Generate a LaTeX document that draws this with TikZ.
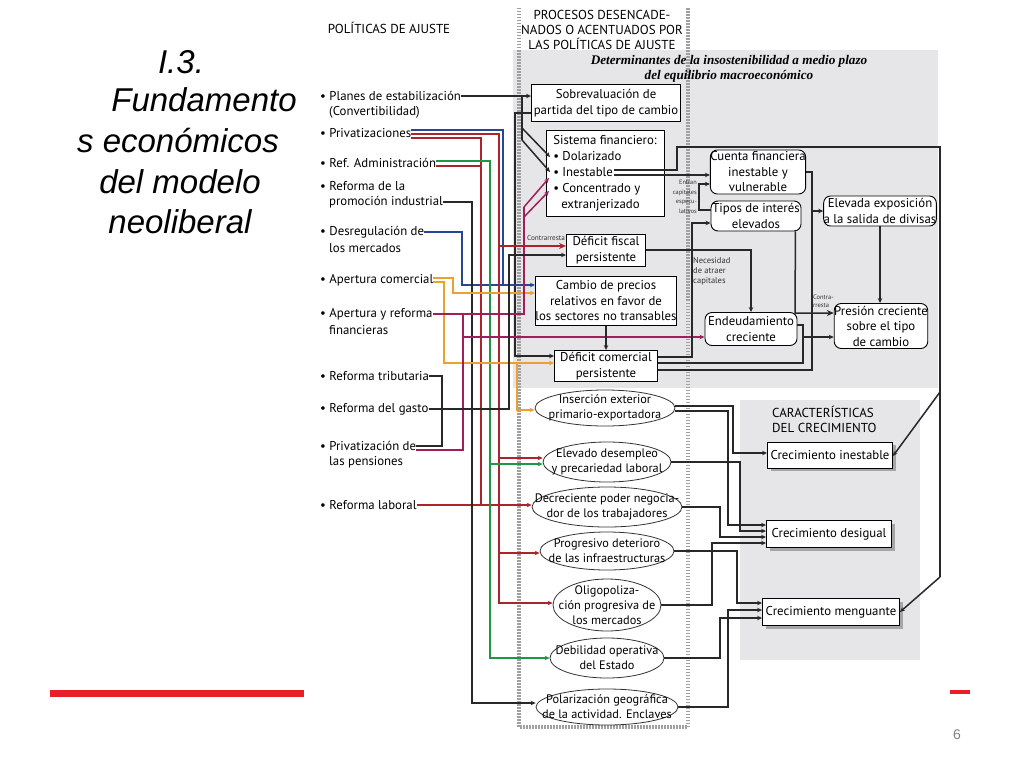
\documentclass[tikz,border=0pt]{standalone}
\usepackage{fontspec}
\setmainfont{PT Sans}
\newfontfamily\arialf{Liberation Sans}
\newfontfamily\timesf{Liberation Serif}
\usetikzlibrary{shapes.geometric,arrows.meta,shadows}
\definecolor{wk}{RGB}{40,40,40}
\definecolor{wr}{RGB}{170,35,45}
\definecolor{wb}{RGB}{40,70,150}
\definecolor{wg}{RGB}{30,150,70}
\definecolor{wo}{RGB}{235,160,50}
\definecolor{wm}{RGB}{160,30,90}
\definecolor{bgg}{RGB}{230,230,232}
\definecolor{redbar}{RGB}{232,30,40}
\definecolor{dotg}{RGB}{160,160,160}
\begin{document}
\begin{tikzpicture}[x=1pt,y=-1pt,
  wire/.style={line width=1.5pt,draw=wk},
  arr/.style={-{Stealth[length=5pt,width=4.5pt]}},
  carr/.style={-{Stealth[length=7pt,width=6pt,open]}},
  bx/.style={draw=black,line width=0.9pt,fill=white,align=center,inner xsep=0pt,inner ysep=1pt,font=\fontsize{12.8}{15.5}\selectfont},
  rbx/.style={bx,rounded corners=7pt},
  el/.style={ellipse,draw=black!80,line width=0.8pt,fill=white,align=center,inner xsep=-25pt,inner ysep=-5pt,font=\fontsize{12.3}{15}\selectfont},
  cbx/.style={bx,drop shadow={shadow xshift=3pt,shadow yshift=-3pt,fill=gray!70,opacity=1}},
  lbl/.style={anchor=west,inner sep=0pt,font=\fontsize{12.8}{15.5}\selectfont},
  ttl/.style={font=\arialf\itshape\fontsize{33}{40}\selectfont,inner sep=0pt},
  hdr/.style={font=\fontsize{13}{15}\selectfont,align=center,inner sep=0pt},
  sml/.style={font=\fontsize{7.2}{9.5}\selectfont,inner sep=0pt,text=black!80},
  dotl/.style={draw=dotg,line width=3.5pt,dash pattern=on 1.5pt off 1.5pt}
]
\useasboundingbox (0,0) rectangle (1024,768);
\fill[white] (0,0) rectangle (1024,768);
% backgrounds
\fill[bgg] (513,50) rectangle (938,388);
\fill[bgg] (740,400) rectangle (920,660);
\draw[dotl] (519,8) -- (519,727) -- (688,727) -- (688,8);
% title
\node[ttl] (t1) at (181,62) {I.3.};
\node[ttl] (t2) at (204,100) {Fundamento};
\node[ttl] (t3) at (178,141) {s económicos};
\node[ttl] (t4) at (180,182) {del modelo};
\node[ttl] (t5) at (180,222) {neoliberal};
\fill[redbar] (50,690) rectangle (304,697);
\fill[redbar] (950,690) rectangle (970,694);
\node[font=\arialf\fontsize{14}{16}\selectfont,text=gray] (pg) at (957,735) {6};
% headers
\node[hdr] (hpol) at (389,28) {POLÍTICAS DE AJUSTE};
\node[hdr] (hpro) at (602,30) {PROCESOS DESENCADE-\\NADOS O ACENTUADOS POR\\LAS POLÍTICAS DE AJUSTE};
\node[font=\timesf\bfseries\itshape\fontsize{13.2}{14.5}\selectfont,align=center,inner sep=0pt] (hdet) at (729,69) {Determinantes de la insostenibilidad a medio plazo\\del equilibrio macroeconómico};
\node[hdr,align=left,anchor=west] (hcar) at (772,419) {CARACTERÍSTICAS\\DEL CRECIMIENTO};
% left labels
\node[lbl] (p1) at (320,96) {• Planes de estabilización};
\node[lbl] (p1b) at (329,112) {(Convertibilidad)};
\node[lbl] (pr) at (320,133) {• Privatizaciones};
\node[lbl] (ra) at (320,163) {• Ref. Administración};
\node[lbl] (pi) at (320,186) {• Reforma de la};
\node[lbl] (pib) at (329,202) {promoción industrial};
\node[lbl] (dr) at (320,232) {• Desregulación de};
\node[lbl] (drb) at (329,248) {los mercados};
\node[lbl] (ac) at (320,280) {• Apertura comercial};
\node[lbl] (af) at (320,314) {• Apertura y reforma};
\node[lbl] (afb) at (329,330) {financieras};
\node[lbl] (rt) at (320,376) {• Reforma tributaria};
\node[lbl] (rg) at (320,409) {• Reforma del gasto};
\node[lbl] (pp) at (320,446) {• Privatización de};
\node[lbl] (ppb) at (329,462) {las pensiones};
\node[lbl] (rl) at (320,505) {• Reforma laboral};
% boxes
\node[bx,minimum width=149pt,minimum height=37pt] (sob) at (606,103) {Sobrevaluación de\\partida del tipo de cambio};
\node[bx,minimum width=118pt,minimum height=86pt,align=left,font=\fontsize{12.8}{16}\selectfont] (sis) at (605,173) {Sistema financiero:\\• Dolarizado\\• Inestable\\• Concentrado y\\\hspace{8pt}extranjerizado};
\node[bx,minimum width=79pt,minimum height=32pt] (dfi) at (606,250) {Déficit fiscal\\persistente};
\node[bx,minimum width=140pt,minimum height=49pt] (cam) at (606,301) {Cambio de precios\\relativos en favor de\\los sectores no transables};
\node[bx,minimum width=103pt,minimum height=31pt] (dco) at (606,366) {Déficit comercial\\persistente};
\node[rbx,minimum width=91pt,minimum height=44pt] (cue) at (758,172) {Cuenta financiera\\inestable y\\vulnerable};
\node[rbx,minimum width=90pt,minimum height=30pt] (tip) at (756,216) {Tipos de interés\\elevados};
\node[rbx,minimum width=110pt,minimum height=30pt] (ele) at (880,211) {Elevada exposición\\a la salida de divisas};
\node[rbx,minimum width=92pt,minimum height=33pt] (end) at (751,329) {Endeudamiento\\creciente};
\node[rbx,minimum width=93pt,minimum height=45pt] (pre) at (881,326) {Presión creciente\\sobre el tipo\\de cambio};
% ellipses
\node[el,minimum width=140pt,minimum height=36pt] (ins) at (605,408) {Inserción exterior\\primario-exportadora};
\node[el,minimum width=128pt,minimum height=40pt] (des) at (607,462) {Elevado desempleo\\y precariedad laboral};
\node[el,minimum width=150pt,minimum height=40pt] (dec) at (607,507) {Decreciente poder negocia-\\dor de los trabajadores};
\node[el,minimum width=134pt,minimum height=38pt] (pro) at (607,551) {Progresivo deterioro\\de las infraestructuras};
\node[el,minimum width=108pt,minimum height=52pt] (oli) at (607,605) {Oligopoliza-\\ción progresiva de\\los mercados};
\node[el,minimum width=114pt,minimum height=40pt] (deb) at (607,658) {Debilidad operativa\\del Estado};
\node[el,minimum width=142pt,minimum height=36pt] (pol) at (607,707) {Polarización geográfica\\de la actividad. Enclaves};
% growth boxes
\node[cbx,minimum width=125pt,minimum height=26pt] (ci) at (830,455) {Crecimiento inestable};
\node[cbx,minimum width=125pt,minimum height=27pt] (cd) at (829,534) {Crecimiento desigual};
\node[cbx,minimum width=137pt,minimum height=27pt] (cm) at (831,612) {Crecimiento menguante};
% small labels
\node[sml,anchor=west] (lc1) at (527,238) {Contrarresta};
\node[sml,font=\fontsize{6.3}{9.5}\selectfont,align=right,anchor=east] (lent) at (697,197) {Entran\\capitales\\especu-\\lativos};
\node[sml,font=\fontsize{8.5}{10}\selectfont,align=left,anchor=north west] (lnec) at (693,257) {Necesidad\\de atraer\\capitales};
\node[sml,font=\fontsize{6.5}{8}\selectfont,align=left,anchor=west] (lc2) at (813,301) {Contra-\\rresta};
% coordinates inside sis
\coordinate (dol) at (550,157);
\coordinate (ine) at (550,172);
\coordinate (mg1) at (549,178);
\coordinate (mg2) at (549,191);
% ---- left wires
\draw[wire,arr] (p1.east) -- (p1.east -| sob.west);
\draw[wire] (522,96) -- (522,140);
\draw[wire,arr] (522,128) -- (dol);
\draw[wire,arr] (522,140) -- (ine);
\draw[wire,arr] ([yshift=-10pt]sob.west) -- (515,113) -- (515,356) -- (dco.west |- 0,356);
\draw[wire,draw=wb] ([yshift=3pt]pr.east) -- (503,130) -- (503,285);
\draw[wire,draw=wb,arr] (dr.east) -- (462,232) -- (462,285) -- (cam.west |- 0,285);
\draw[wire,draw=wr,arr] ([yshift=-1pt]pr.east) -- (499,134) -- (499,603) -- (oli.west |- 0,603);
\draw[wire,draw=wr,carr] (499,246) -- (dfi.west |- 0,246);
\draw[wire,draw=wr,arr] (499,458) -- (des.west |- 0,458);
\draw[wire,draw=wr,arr] (499,553) -- (pro.west |- 0,553);
\draw[wire,draw=wr] ([yshift=-5pt]pr.east) -- (481,138) -- (481,505);
\draw[wire,draw=wr] ([yshift=-3pt]ra.east) -- (481,166);
\draw[wire,draw=wr,arr] (rl.east) -- (rl.east -| dec.west);
\draw[wire,draw=wg,arr] ([yshift=2pt]ra.east) -- (490,161) -- (490,658) -- (deb.west |- 0,658);
\draw[wire,draw=wg,arr] (490,464) -- (des.west |- 0,464);
\draw[wire,arr] (pib.east) -- (472,202) -- (472,703) -- (pol.west |- 0,703);
\draw[wire,draw=wo,arr] ([yshift=2pt]ac.east) -- (453,278) -- (453,293) -- (cam.west |- 0,293);
\draw[wire,draw=wo,arr] ([yshift=-2pt]ac.east) -- (444,282) -- (444,363) -- (dco.west |- 0,363);
\draw[wire,draw=wo,arr] (517,363) -- (517,410) -- (ins.west |- 0,410);
\draw[wire,draw=wm] (af.east) -- (524,314) -- (524,207);
\draw[wire,draw=wm,arr] (524,207) -- (mg1);
\draw[wire,draw=wm,arr] (524,217) -- (mg2);
\draw[wire,draw=wm] (463,314) -- (463,450) -- ([yshift=-4pt]pp.east);
\draw[wire,draw=wm,arr] (463,337) -- (end.west |- 0,337);
\draw[wire] (rt.east) -- (442,376) -- (442,446) -- (pp.east);
\draw[wire,arr] (rg.east) -- (509,409) -- (509,255) -- (dfi.west |- 0,255);
% ---- right wires
\draw[wire] (614,170) -- (677,170) -- (677,147) -- (940,147) -- (940,577);
\draw[wire,arr] (614,175) -- (cue.west |- 0,175);
\draw[wire,arr] ([yshift=6pt]tip.west) -- (699,210) -- (699,184) -- (cue.west |- 0,184);
\draw[wire,arr] ([yshift=9pt]dco.east) -- (692,357) -- (692,223) -- (tip.west |- 0,223);
\draw[wire,arr] (dfi.east) -- (dfi.east -| end.north) -- (end.north);
\draw[wire,arr] (cam.south) -- (dco.north);
\draw[wire] (cue.east) -- (812,172) -- (812,370) -- ([yshift=-4pt]dco.east);
\draw[wire,arr] (812,211) -- (ele.west);
\draw[wire] ([yshift=4pt]end.east) -- (803,325) -- (803,363) -- ([yshift=3pt]dco.east);
\draw[wire,arr] (803,337) -- (pre.west |- 0,337);
\draw[wire,carr] ([xshift=-6pt]tip.south east) -- (795,313) -- (pre.west |- 0,313);
\draw[wire,arr] (ele.south) -- (ele.south |- pre.north);
\draw[wire,arr] (940,392) -- ([yshift=-1pt]ci.east);
\draw[wire,arr] (940,577) -- (cm.east);
% ---- bottom right wires
\draw[wire,arr] ([yshift=2pt]ins.east) -- (733,406) -- (733,453) -- (ci.west |- 0,453);
\draw[wire,arr] ([yshift=-3pt]ins.east) -- (728,411) -- (728,525) -- (cd.west |- 0,525);
\draw[wire,arr] (des.east) -- (740,462) -- (740,531) -- (cd.west |- 0,531);
\draw[wire,arr] (dec.east) -- (720,507) -- (720,537) -- (cd.west |- 0,537);
\draw[wire,arr] (oli.east) -- (712,605) -- (712,543) -- (cd.west |- 0,543);
\draw[wire,arr] (pro.east) -- (737,551) -- (737,603) -- (cm.west |- 0,603);
\draw[wire,arr] (pol.east) -- (728,707) -- (728,610) -- (cm.west |- 0,610);
\draw[wire,arr] (deb.east) -- (720,658) -- (720,618) -- (cm.west |- 0,618);
\end{tikzpicture}
\end{document}
